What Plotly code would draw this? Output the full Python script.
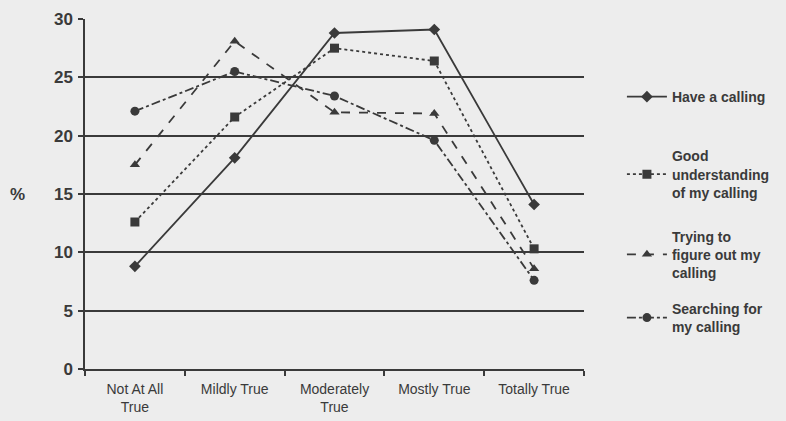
import plotly.graph_objects as go

categories = ["Not At All<br>True", "Mildly True", "Moderately<br>True", "Mostly True", "Totally True"]
have_calling = [8.8, 18.1, 28.8, 29.1, 14.1]
good_understanding = [12.6, 21.6, 27.5, 26.4, 10.3]
trying_figure = [17.5, 28.1, 22.0, 21.9, 8.6]
searching = [22.1, 25.5, 23.4, 19.6, 7.6]

names = ["Have a calling",
         "Good<br>understanding<br>of my calling",
         "Trying to<br>figure out my<br>calling",
         "Searching for<br>my calling"]
series = [have_calling, good_understanding, trying_figure, searching]
dashes = ["solid", "dot", "dash", "dashdot"]
symbols = ["diamond", "square", "triangle-up", "circle"]
legends = ["legend", "legend2", "legend3", "legend4"]

ink = "#3a3a3a"
bg = "#ededed"

fig = go.Figure()
for name, vals, dash, sym, lg in zip(names, series, dashes, symbols, legends):
    fig.add_trace(go.Scatter(
        x=categories, y=vals, name=name, mode="lines+markers",
        line=dict(color=ink, width=1.8, dash=dash),
        marker=dict(symbol=sym, size=9, color=ink),
        legend=lg, showlegend=True,
    ))

legfont = dict(family="Liberation Sans, Arial", size=14, color=ink, weight="bold")
def leg(y):
    return dict(x=1.076, y=y, xanchor="left", yanchor="middle", font=legfont,
                bgcolor="rgba(0,0,0,0)", valign="middle", itemwidth=40, visible=True)

fig.update_layout(
    width=786, height=421,
    margin=dict(l=85, r=202, t=19, b=52, autoexpand=False),
    paper_bgcolor=bg, plot_bgcolor=bg,
    showlegend=True,
    legend=leg(0.777),
    legend2=leg(0.556),
    legend3=leg(0.327),
    legend4=leg(0.146),
    xaxis=dict(
        type="category", range=[-0.5, 4.5], showgrid=False,
        showline=True, linecolor=ink, linewidth=1.5, automargin=False,
        ticks="outside", tickson="boundaries", ticklen=5, tickcolor=ink, tickwidth=1.5,
        tickfont=dict(family="Liberation Sans, Arial", size=14, color=ink),
        ticklabelstandoff=6,
    ),
    yaxis=dict(
        range=[0, 30], tickvals=[0, 5, 10, 15, 20, 25, 30],
        showgrid=True, gridcolor=ink, gridwidth=1.5, automargin=False,
        showline=True, linecolor=ink, linewidth=1.5,
        ticks="outside", ticklen=5, tickcolor=ink, tickwidth=1.5,
        tickfont=dict(family="Liberation Sans, Arial", size=17, color=ink, weight="bold"),
        ticklabelstandoff=2, zeroline=False,
    ),
    annotations=[dict(text="%", xref="paper", yref="paper", x=-0.136, y=0.5,
                      xanchor="center", yanchor="middle", showarrow=False,
                      font=dict(family="Liberation Sans, Arial", size=17, color=ink, weight="bold"))],
)

fig.write_html("out.html", config={"displayModeBar": False},
               post_script="document.body.style.margin='0';document.body.style.background='%s';" % bg)
